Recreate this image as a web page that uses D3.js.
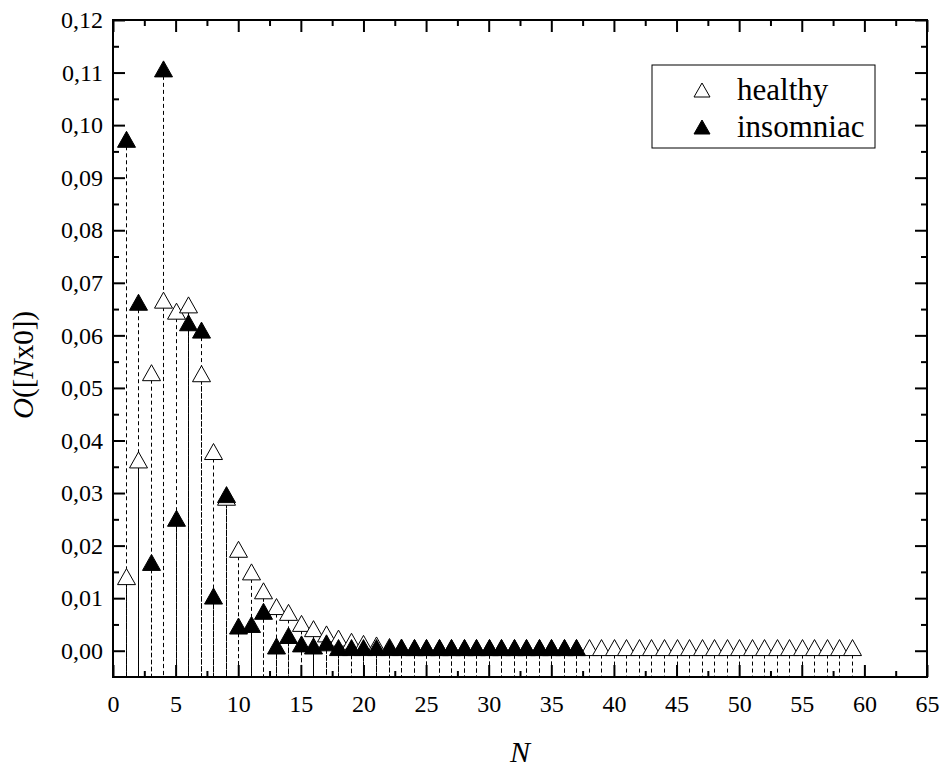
<!DOCTYPE html>
<html>
<head>
<meta charset="utf-8">
<script src="https://cdn.jsdelivr.net/npm/d3@7"></script>
<style>
  body { margin: 0; background: #fff; }
  svg text { font-family: "Liberation Serif", Tinos, "Times New Roman", Times, "DejaVu Serif", serif; fill: #000; }
</style>
</head>
<body>
<div id="chart"></div>
<script>
const healthyN = [1, 2, 3, 4, 5, 6, 7, 8, 9, 10, 11, 12, 13, 14, 15, 16, 17, 18, 19, 20,
  21, 22, 23, 24, 25, 26, 27, 28, 29, 30, 31, 32, 33, 34, 35, 36, 37, 38, 39, 40,
  41, 42, 43, 44, 45, 46, 47, 48, 49, 50, 51, 52, 53, 54, 55, 56, 57, 58, 59];
const healthy = [0.0141, 0.0363, 0.0529, 0.0667, 0.0646, 0.0658, 0.0527, 0.0379, 0.0292, 0.0193,
  0.0150, 0.0114, 0.0084, 0.0073, 0.0052, 0.0042, 0.0032, 0.0024, 0.0018, 0.0014,
  0.0011, 0.0008, 0.0007, 0.0006, 0.0006, 0.0006, 0.0006, 0.0006, 0.0006, 0.0006,
  0.0006, 0.0006, 0.0006, 0.0006, 0.0006, 0.0006, 0.0006, 0.0006, 0.0006, 0.0006,
  0.0006, 0.0006, 0.0006, 0.0006, 0.0006, 0.0006, 0.0006, 0.0006, 0.0006, 0.0006,
  0.0006, 0.0006, 0.0006, 0.0006, 0.0006, 0.0006, 0.0006, 0.0006, 0.0006];

const insomniacN = [1, 2, 3, 4, 5, 6, 7, 8, 9, 10, 11, 12, 13, 14, 15, 16, 17, 18, 19, 20,
  21, 22, 23, 24, 25, 26, 27, 28, 29, 30, 31, 32, 33, 34, 35, 36, 37];
const insomniac = [0.0973, 0.0663, 0.0168, 0.1107, 0.0252, 0.0624, 0.0610, 0.0104, 0.0297, 0.0047,
  0.0050, 0.0075, 0.0009, 0.0029, 0.0013, 0.0009, 0.0015, 0.0006, 0.0006, 0.0006,
  0.0006, 0.0006, 0.0006, 0.0006, 0.0006, 0.0006, 0.0006, 0.0006, 0.0006, 0.0006,
  0.0006, 0.0006, 0.0006, 0.0006, 0.0006, 0.0006, 0.0006];

const xTicks = [0, 5, 10, 15, 20, 25, 30, 35, 40, 45, 50, 55, 60, 65];
const xMinorTicks = [2.5, 7.5, 12.5, 17.5, 22.5, 27.5, 32.5, 37.5, 42.5, 47.5, 52.5, 57.5, 62.5];
const yTicks = [0, 0.01, 0.02, 0.03, 0.04, 0.05, 0.06, 0.07, 0.08, 0.09, 0.10, 0.11, 0.12];
const yMinorTicks = [0.005, 0.015, 0.025, 0.035, 0.045, 0.055, 0.065, 0.075, 0.085, 0.095, 0.105, 0.115];

const seriesNames = ["healthy", "insomniac"];

const margin = { top: 20, right: 17, bottom: 95, left: 113 };
const width = 944 - margin.left - margin.right;
const height = 772 - margin.top - margin.bottom;
const font = '"Liberation Serif", Tinos, "Times New Roman", Times, "DejaVu Serif", serif';

const root = d3.select("#chart")
  .append("svg")
  .attr("width", 944)
  .attr("height", 772)
  .style("display", "block")
  .style("background", "#fff")
  .style("font-family", font);

const svg = root.append("g")
  .attr("transform", `translate(${margin.left},${margin.top})`);

const x = d3.scaleLinear().domain([0, 65]).range([0, width]);
const y = d3.scaleLinear().domain([-0.005, 0.12]).range([height, 0]);

const commaFmt = d => d.toFixed(2).replace(".", ",");

// triangle symbol, centred on its bounding box
function tri(w, h) {
  return `M0,${-h / 2}L${w / 2},${h / 2}L${-w / 2},${h / 2}Z`;
}

function addAxis(gen, tx, ty, values, size, fmt, pad) {
  svg.append("g")
    .attr("transform", `translate(${tx},${ty})`)
    .call(gen.tickValues(values)
      .tickSizeInner(-size)
      .tickSizeOuter(0)
      .tickPadding(pad || 0)
      .tickFormat(fmt || (() => "")))
    .attr("font-family", null)
    .attr("font-size", 24)
    .call(g => g.select(".domain").remove())
    .call(g => g.selectAll(".tick line").attr("stroke", "#000").attr("stroke-width", 2))
    .call(g => g.selectAll(".tick text").style("font-family", font));
}

// drop lines
const series = [
  { name: "insomniac", n: insomniacN, v: insomniac },
  { name: "healthy", n: healthyN, v: healthy }
];

series.forEach(s => {
  svg.append("g")
    .selectAll("line")
    .data(s.n.map((n, i) => ({ n, v: s.v[i] })))
    .join("line")
    .attr("x1", d => Math.round(x(d.n)) + 0.5)
    .attr("x2", d => Math.round(x(d.n)) + 0.5)
    .attr("y1", d => y(d.v))
    .attr("y2", height)
    .attr("stroke", "#000")
    .attr("stroke-width", 1)
    .attr("stroke-dasharray", "4,3");
});

// markers: healthy (open) under insomniac (filled)
svg.append("g")
  .selectAll("path")
  .data(healthyN.map((n, i) => ({ n, v: healthy[i] })))
  .join("path")
  .attr("d", tri(18, 16))
  .attr("transform", d => `translate(${Math.round(x(d.n)) + 0.5},${y(d.v)})`)
  .attr("fill", "#fff")
  .attr("stroke", "#000")
  .attr("stroke-width", 1);

svg.append("g")
  .selectAll("path")
  .data(insomniacN.map((n, i) => ({ n, v: insomniac[i] })))
  .join("path")
  .attr("d", tri(18, 16))
  .attr("transform", d => `translate(${Math.round(x(d.n)) + 0.5},${y(d.v)})`)
  .attr("fill", "#000")
  .attr("stroke", "#000")
  .attr("stroke-width", 1);

// axes: ticks inside on all four sides
addAxis(d3.axisBottom(x), 0, height, xTicks, 12, d => d, 18);
addAxis(d3.axisBottom(x), 0, height, xMinorTicks, 6);
addAxis(d3.axisTop(x), 0, 0, xTicks, 12);
addAxis(d3.axisTop(x), 0, 0, xMinorTicks, 6);
addAxis(d3.axisLeft(y), 0, 0, yTicks, 12, commaFmt, 10);
addAxis(d3.axisLeft(y), 0, 0, yMinorTicks, 6);
addAxis(d3.axisRight(y), width, 0, yTicks, 12);
addAxis(d3.axisRight(y), width, 0, yMinorTicks, 6);

svg.append("rect")
  .attr("x", 0)
  .attr("y", 0)
  .attr("width", width)
  .attr("height", height)
  .attr("fill", "none")
  .attr("stroke", "#000")
  .attr("stroke-width", 2);

// axis titles
svg.append("text")
  .attr("x", width / 2)
  .attr("y", height + 85)
  .attr("text-anchor", "middle")
  .attr("font-size", 30)
  .attr("font-style", "italic")
  .style("font-family", font)
  .text("N");

const yTitle = svg.append("text")
  .attr("transform", `translate(${33 - margin.left},${365 - margin.top}) rotate(-90)`)
  .attr("text-anchor", "middle")
  .attr("font-size", 29)
  .style("font-family", font);
yTitle.append("tspan").attr("font-style", "italic").text("O");
yTitle.append("tspan").text("([");
yTitle.append("tspan").attr("font-style", "italic").text("N");
yTitle.append("tspan").text("x0])");

// legend
const legend = root.append("g").attr("transform", "translate(652,65)");
legend.append("rect")
  .attr("width", 223)
  .attr("height", 83)
  .attr("fill", "#fff")
  .attr("stroke", "#000")
  .attr("stroke-width", 1);

legend.selectAll("g.item")
  .data(seriesNames)
  .join("g")
  .attr("class", "item")
  .attr("transform", (d, i) => `translate(0,${25 + i * 37})`)
  .each(function (d) {
    const g = d3.select(this);
    g.append("path")
      .attr("d", tri(16, 14))
      .attr("transform", "translate(50,0)")
      .attr("fill", d === "healthy" ? "#fff" : "#000")
      .attr("stroke", "#000")
      .attr("stroke-width", 1);
    g.append("text")
      .attr("x", 85)
      .attr("y", 10)
      .attr("font-size", 31)
      .style("font-family", font)
      .text(d);
  });
</script>
</body>
</html>
